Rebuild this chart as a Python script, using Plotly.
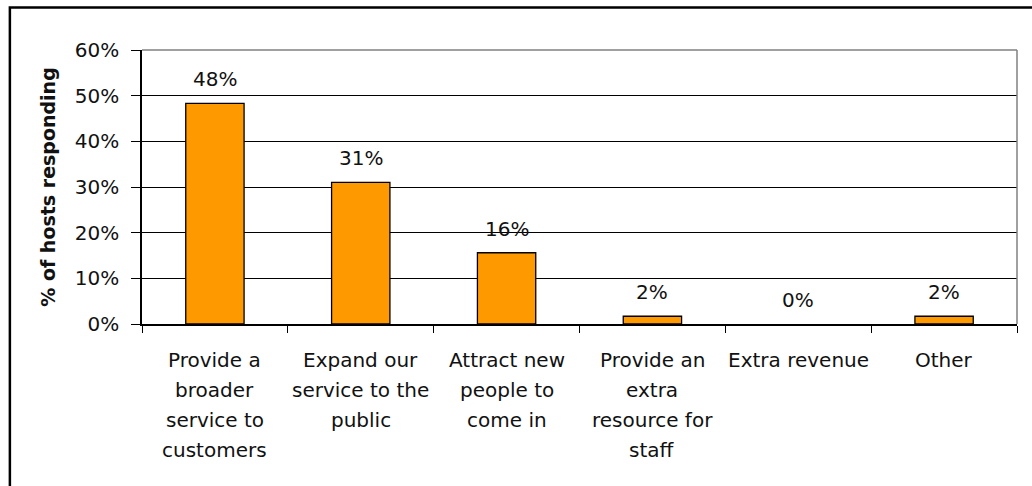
import plotly.graph_objects as go

# Survey results: reasons hosts gave
categories = [
    "Provide a broader service to customers",
    "Expand our service to the public",
    "Attract new people to come in",
    "Provide an extra resource for staff",
    "Extra revenue",
    "Other",
]
# Wrapped label lines for each category
label_lines = [
    ["Provide a", "broader", "service to", "customers"],
    ["Expand our", "service to the", "public"],
    ["Attract new", "people to", "come in"],
    ["Provide an", "extra", "resource for", "staff"],
    ["Extra revenue"],
    ["Other"],
]
share = [0.483, 0.31, 0.156, 0.017, 0.0, 0.017]
y_ticks = [0, 0.1, 0.2, 0.3, 0.4, 0.5, 0.6]

FONT = "DejaVu Sans"
TXT = "#111111"
SIZE = 20

fig = go.Figure()
fig.add_trace(go.Bar(
    x=categories,
    y=share,
    marker=dict(color="#FF9900",
                line=dict(color="black",
                          width=[1.3 if v > 0 else 0 for v in share])),
    width=0.4,
    hoverinfo="skip",
))

annotations = []
# value labels above each bar
for c, v in zip(categories, share):
    annotations.append(dict(
        x=c, y=v, xref="x", yref="y", text=f"{v:.0%}",
        showarrow=False, yshift=24, yanchor="middle",
        font=dict(family=FONT, size=SIZE, color=TXT),
    ))
# category labels, one annotation per line
for c, lines in zip(categories, label_lines):
    for i, line in enumerate(lines):
        annotations.append(dict(
            x=c, y=0, xref="x", yref="paper", text=line,
            showarrow=False, yshift=-(36 + 30 * i), yanchor="middle",
            font=dict(family=FONT, size=SIZE, color=TXT),
        ))

fig.update_layout(
    width=1032, height=486,
    margin=dict(l=142, r=15, t=50, b=162),
    paper_bgcolor="white", plot_bgcolor="white",
    showlegend=False,
    annotations=annotations,
    font=dict(family=FONT, size=SIZE, color=TXT),
    shapes=[
        # outer chart frame
        dict(type="rect", xref="paper", yref="paper",
             x0=-0.151, x1=1.3, y0=-1.0, y1=1.155,
             line=dict(color="black", width=2.5), layer="below"),
        # plot area frame (top and right edges)
        dict(type="line", xref="paper", yref="paper",
             x0=0, x1=1, y0=1, y1=1, line=dict(color="#808080", width=1.5)),
        dict(type="line", xref="paper", yref="paper",
             x0=1, x1=1, y0=0, y1=1, line=dict(color="#808080", width=1.5)),
    ],
)

fig.update_xaxes(
    type="category",
    showticklabels=False,
    showline=True, linecolor="black", linewidth=1.5,
    ticks="outside", tickson="boundaries", ticklen=7, tickcolor="black",
    tickwidth=1.3,
    showgrid=False,
)
fig.update_yaxes(
    range=[0, 0.6],
    tickvals=y_ticks, tickformat=".0%",
    tickfont=dict(family=FONT, size=SIZE, color=TXT),
    ticklabelstandoff=8,
    showline=True, linecolor="black", linewidth=1.5,
    ticks="outside", ticklen=9, tickcolor="black", tickwidth=1.3,
    showgrid=True, gridcolor="black", gridwidth=1.2,
    zeroline=False,
    title=dict(text="<b>% of hosts responding</b>",
               font=dict(family=FONT, size=19, color=TXT), standoff=14),
)

fig.write_html("out.html")
